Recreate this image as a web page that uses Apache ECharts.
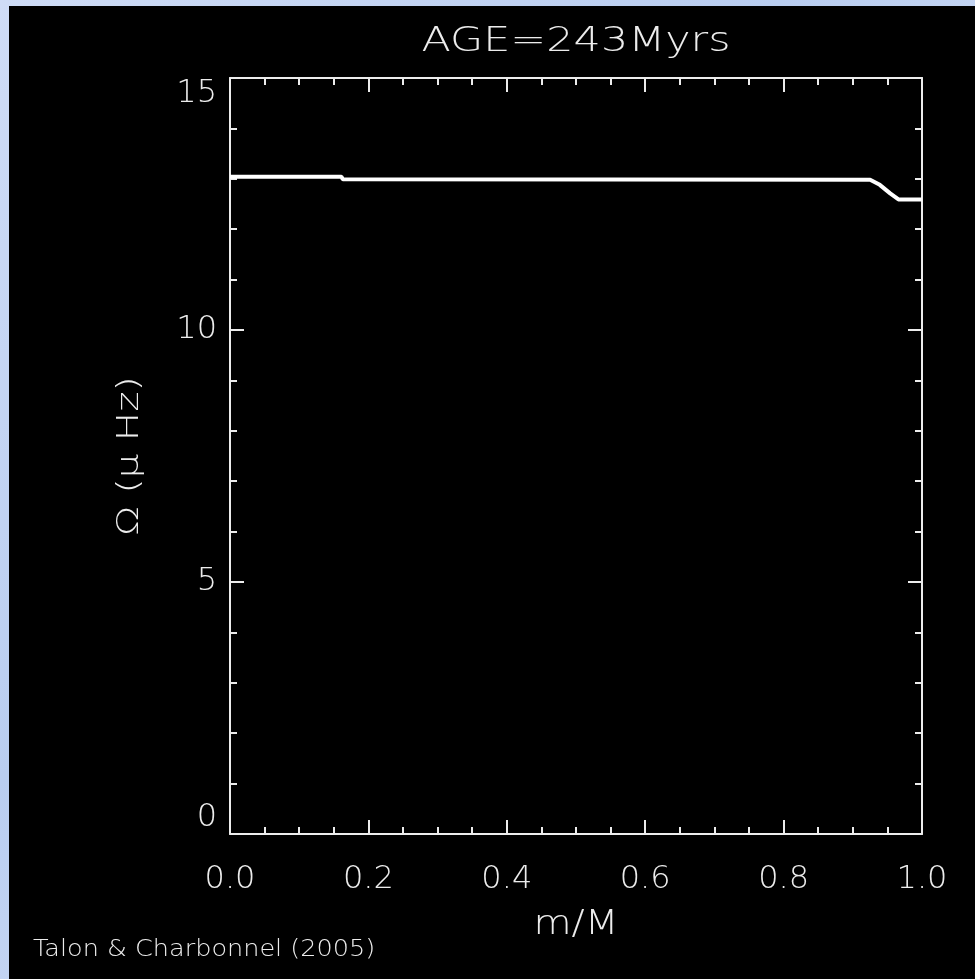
<!DOCTYPE html>
<html>
<head>
<meta charset="utf-8">
<script src="https://cdn.jsdelivr.net/npm/echarts@6/dist/echarts.min.js"></script>
<style>
  html, body { margin: 0; padding: 0; width: 975px; height: 979px; overflow: hidden;
    background: linear-gradient(135deg, #cfdcf6 0%, #b9cdf0 40%, #d6e2f8 70%, #bfd0f2 100%); }
  #chart { position: absolute; left: 9px; top: 6px; width: 966px; height: 973px; background: #000; }
</style>
</head>
<body>
<div id="chart"></div>
<script>
// Data
const mValues = [0, 0.161, 0.163, 0.925, 0.939, 0.954, 0.966, 1.0];
const omegaValues = [13.04, 13.04, 12.99, 12.98, 12.88, 12.71, 12.59, 12.59];
const titleText = 'AGE=243Myrs';
const xName = 'm/M';
const yName = 'Ω (μ Hz)';
const creditText = 'Talon & Charbonnel (2005)';
const xTickLabels = ['0.0', '0.2', '0.4', '0.6', '0.8', '1.0'];
const yTickLabels = ['0', '5', '10', '15'];

const chart = echarts.init(document.getElementById('chart'));
const FONT = 'DejaVu Sans';
const WHITE = '#ececec';

const seriesData = mValues.map((m, i) => [m, omegaValues[i]]);

const gridLeft = 221, gridTop = 72, gridRight = 53, gridBottom = 145;
const plotW = 966 - gridLeft - gridRight;
const plotH = 973 - gridTop - gridBottom;
const cx = gridLeft + plotW / 2;
const cy = gridTop + plotH / 2;

function xAx(pos, showLabel) {
  return {
    type: 'value', position: pos, min: 0, max: 1, interval: 0.2,
    axisLine: { show: true, onZero: false, lineStyle: { color: WHITE, width: 2 } },
    axisTick: { show: true, inside: true, length: 14, lineStyle: { color: WHITE, width: 2 } },
    minorTick: { show: true, splitNumber: 4, length: 7, lineStyle: { color: WHITE, width: 2 } },
    splitLine: { show: false },
    axisLabel: { show: showLabel, margin: 30, color: WHITE, fontFamily: FONT, fontWeight: 200, fontSize: 32,
      formatter: v => xTickLabels[Math.round(v / 0.2)] }
  };
}
function yAx(pos, showLabel) {
  return {
    type: 'value', position: pos, min: 0, max: 15, interval: 5,
    axisLine: { show: true, onZero: false, lineStyle: { color: WHITE, width: 2 } },
    axisTick: { show: true, inside: true, length: 14, lineStyle: { color: WHITE, width: 2 } },
    minorTick: { show: true, splitNumber: 5, length: 7, lineStyle: { color: WHITE, width: 2 } },
    splitLine: { show: false },
    axisLabel: { show: showLabel, margin: 13, color: WHITE, fontFamily: FONT, fontWeight: 200, fontSize: 32,
      verticalAlignMinLabel: 'bottom', verticalAlignMaxLabel: 'top',
      formatter: v => yTickLabels[Math.round(v / 5)] }
  };
}

chart.setOption({
  backgroundColor: '#000',
  animation: false,
  grid: { left: gridLeft, top: gridTop, right: gridRight, bottom: gridBottom, containLabel: false },
  xAxis: [xAx('bottom', true), xAx('top', false)],
  yAxis: [yAx('left', true), yAx('right', false)],
  series: [{
    type: 'line', xAxisIndex: 0, yAxisIndex: 0, data: seriesData,
    showSymbol: false, lineStyle: { color: '#ffffff', width: 4 }
  }],
  graphic: [
    { type: 'text', x: cx, y: 36, scaleX: 1.3, style: { text: titleText, fill: WHITE, font: '200 33px "DejaVu Sans"',
      textAlign: 'center', textVerticalAlign: 'middle' } },
    { type: 'text', x: cx, y: 919, scaleX: 1.15, style: { text: xName, fill: WHITE, font: '200 34px "DejaVu Sans"',
      textAlign: 'center', textVerticalAlign: 'middle' } },
    { type: 'text', x: 121, y: cy, rotation: Math.PI / 2, scaleX: 1.3, style: { text: yName, fill: WHITE,
      font: '200 30px "DejaVu Sans"', textAlign: 'center', textVerticalAlign: 'middle' } },
    { type: 'text', x: 24, y: 944, scaleX: 1.11, style: { text: creditText, fill: WHITE, font: '200 23px "DejaVu Sans"',
      textAlign: 'left', textVerticalAlign: 'middle' } }
  ]
});
</script>
</body>
</html>
